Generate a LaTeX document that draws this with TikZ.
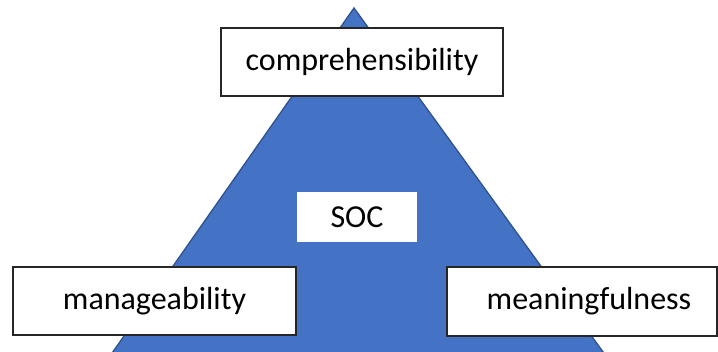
\documentclass[tikz,border=0pt]{standalone}
\usepackage{fontspec}
\setmainfont{Carlito}
\definecolor{socfill}{HTML}{4472C4}
\definecolor{socline}{HTML}{2F528F}
\begin{document}
\begin{tikzpicture}[x=1pt,y=-1pt,
  boxtext/.style={font=\fontsize{32}{38}\selectfont, text=black, inner sep=0pt},
  labelbox/.style={draw=black!85, line width=1.3pt, fill=white, inner sep=0pt},
  socbox/.style={fill=white, inner sep=0pt, minimum width=120pt, minimum height=50pt}
]
\useasboundingbox (0,0) rectangle (718,352);

% the triangle
\coordinate (apex) at (354,8);
\coordinate (baseL) at (110,356);
\coordinate (baseR) at (606,356);
\begin{scope}
  \clip (0,0) rectangle (718,352);
  \filldraw[fill=socfill, draw=socline, line width=1.3pt, line join=miter]
    (apex) -- (baseR) -- (baseL) -- cycle;
\end{scope}

% top label
\node[labelbox, boxtext, minimum width=282pt, minimum height=68pt] (comp) at (362,62) {comprehensibility};

% centre label
\node[socbox, boxtext] (soc) at (357,217) {SOC};

% bottom left label
\node[labelbox, boxtext, minimum width=283pt, minimum height=68pt] (manage) at (154.5,301) {manageability};

% bottom right label
\node[labelbox, minimum width=270pt, minimum height=69pt] (meanbox) at (582,301.5) {};
\node[boxtext] (mean) at (589,301.5) {meaningfulness};
\end{tikzpicture}
\end{document}
